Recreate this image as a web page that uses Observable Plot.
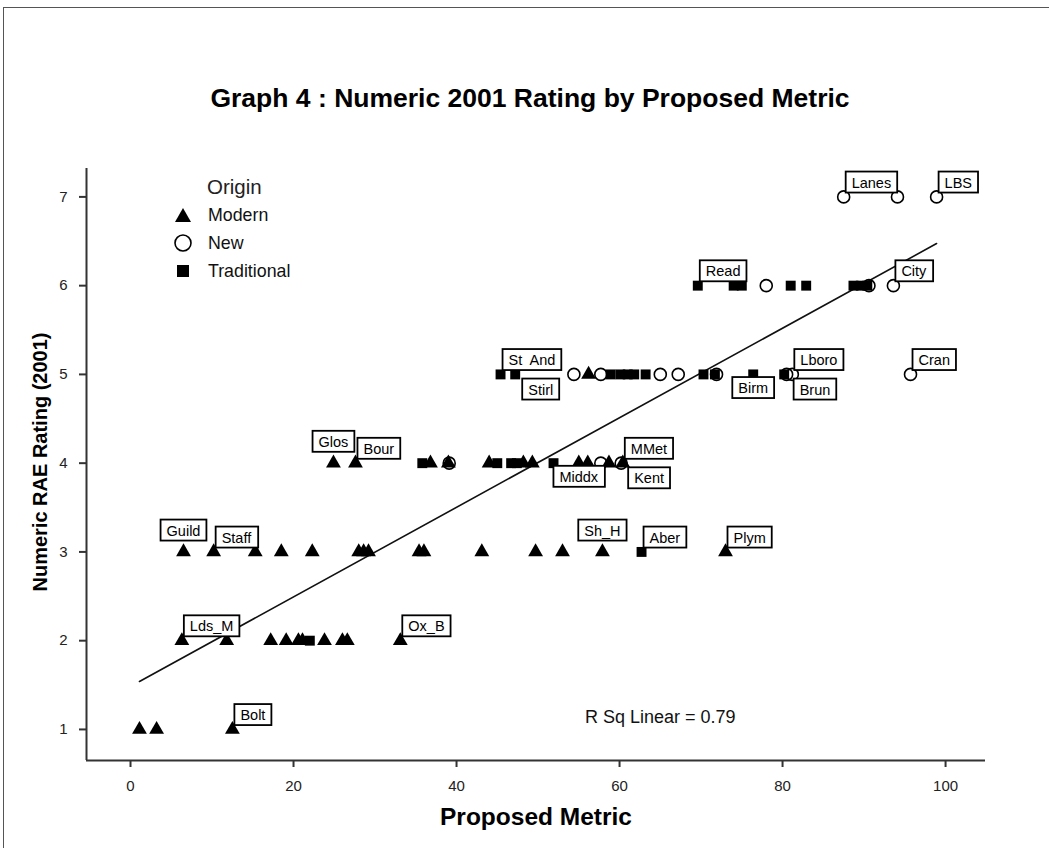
<!DOCTYPE html>
<html><head><meta charset="utf-8">
<script src="https://cdn.jsdelivr.net/npm/d3@7"></script>
<script src="https://cdn.jsdelivr.net/npm/@observablehq/plot@0.6"></script>
<style>
body{margin:0;background:#fff;font-family:"Liberation Sans",Arial,sans-serif;}
#wrap{position:relative;width:1049px;height:848px;overflow:hidden;}
#frame{position:absolute;left:3px;top:7px;width:1100px;height:900px;border-left:1px solid #555;border-top:1px solid #555;pointer-events:none;}
#title{position:absolute;left:0;width:1060px;top:83px;text-align:center;font-weight:bold;font-size:26.5px;color:#000;}
.axlab{position:absolute;font-weight:bold;color:#000;white-space:nowrap;}
#xlab{left:0;width:1072px;text-align:center;top:803px;font-size:24.5px;}
#ylab{left:40px;top:462px;transform:translate(-50%,-50%) rotate(-90deg);font-size:20px;}
#legend{position:absolute;left:174px;top:175px;color:#111;}
#legend .ttl{position:absolute;left:33px;top:0;font-size:20.5px;color:#222;white-space:nowrap;line-height:24px;}
#legend .row{position:absolute;left:0;white-space:nowrap;height:20px;line-height:20px;font-size:17.8px;}
#legend svg{vertical-align:middle;margin-right:16px;position:relative;top:-1px;}
</style></head>
<body>
<div id="wrap">
  <div id="frame"></div>
  <div id="title">Graph 4 : Numeric 2001 Rating by Proposed Metric</div>
  <div id="legend"></div>
  <div class="axlab" id="xlab">Proposed Metric</div>
  <div class="axlab" id="ylab">Numeric RAE Rating (2001)</div>
</div>
<script>
// [Proposed Metric, Numeric RAE Rating (2001)]
const modern = [
  [1.1,1],[3.2,1],[12.5,1],
  [6.3,2],[11.8,2],[17.2,2],[19.1,2],[20.6,2],[21.1,2],[23.8,2],[26.0,2],[26.6,2],[33.1,2],
  [6.5,3],[10.2,3],[15.3,3],[18.5,3],[22.3,3],[28.0,3],[28.6,3],[29.2,3],[35.4,3],[36.0,3],[43.1,3],[49.7,3],[53.0,3],[57.9,3],[73.0,3],
  [24.9,4],[27.6,4],[36.8,4],[39.0,4],[44.0,4],[48.2,4],[49.3,4],[55.0,4],[56.1,4],[58.7,4],[60.4,4],
  [56.2,5]
];
const newUni = [
  [39.1,4],[57.7,4],[60.2,4],
  [54.4,5],[57.7,5],[65.0,5],[67.2,5],[71.9,5],[80.5,5],[81.2,5],[95.7,5],
  [78.0,6],[90.6,6],[93.6,6],
  [87.5,7],[94.1,7],[98.9,7]
];
const traditional = [
  [22.0,2],
  [62.7,3],
  [35.8,4],[45.0,4],[46.7,4],[47.4,4],[51.9,4],
  [45.4,5],[47.2,5],[58.9,5],[60.1,5],[61.0,5],[61.8,5],[63.2,5],[70.3,5],[71.7,5],[76.4,5],[80.2,5],
  [69.6,6],[74.0,6],[75.0,6],[81.0,6],[82.9,6],[88.7,6],[89.6,6],[90.4,6]
];
// [label, metric, rating, placement]
const labels = [
  ["Bolt",12.5,1,"ne"],["Lds_M",6.3,2,"ne"],["Ox_B",33.1,2,"ne"],
  ["Guild",6.5,3,"n"],["Staff",10.2,3,"ne"],["Sh_H",57.9,3,"n"],["Aber",62.7,3,"ne"],["Plym",73.0,3,"ne"],
  ["Glos",24.9,4,"n"],["Bour",27.6,4,"ne"],["Middx",55.0,4,"s"],["MMet",60.4,4,"ne"],["Kent",60.2,4,"se"],
  ["St  And",45.4,5,"ne"],["Stirl",47.2,5,"se"],["Birm",76.4,5,"s"],["Lboro",81.2,5,"ne"],["Brun",80.5,5,"se"],["Cran",95.7,5,"ne"],
  ["Read",69.6,6,"ne"],["City",93.6,6,"ne"],
  ["Lanes",87.5,7,"ne"],["LBS",98.9,7,"ne"]
];
const originNames = ["Modern","New","Traditional"];
const xTicks = [0,20,40,60,80,100];
const yTicks = [1,2,3,4,5,6,7];
const xDomain = [-5.4,104.9];
const yDomain = [0.65,7.32];
const rSqText = "R Sq Linear = 0.79";

const all = [...modern, ...newUni, ...traditional];
const offsets = {ne:[8,-14], n:[0,-21], se:[13,15.5], s:[0,14]};
const anchors = {ne:"start", n:"middle", se:"start", s:"middle"};

const labelMarks = Object.keys(offsets).map(k => Plot.text(labels.filter(d => d[3]===k), {
  x: d => d[1], y: d => d[2], text: d => d[0],
  dx: offsets[k][0], dy: offsets[k][1], textAnchor: anchors[k],
  fontSize: 14.5, fill: "black"
}));

const plot = Plot.plot({
  width: 1049, height: 848,
  marginLeft: 86, marginRight: 64, marginTop: 168, marginBottom: 88,
  style: {fontFamily: "Liberation Sans, Arial, sans-serif", fontSize: "15px", color: "#222", background: "transparent"},
  x: {domain: xDomain},
  y: {domain: yDomain},
  marks: [
    Plot.axisX({ticks: xTicks, tickSize: 7, tickPadding: 13, label: null, strokeWidth: 2, stroke: "#333", tickFormat: d3.format("d")}),
    Plot.axisY({ticks: yTicks, tickSize: 7, tickPadding: 12, label: null, strokeWidth: 2, stroke: "#333", tickFormat: d3.format("d")}),
    Plot.ruleX([xDomain[0]], {stroke: "#333", strokeWidth: 2}),
    Plot.ruleY([yDomain[0]], {stroke: "#333", strokeWidth: 2}),
    Plot.linearRegressionY(all, {x: d => d[0], y: d => d[1], stroke: "#111", strokeWidth: 1.6, ci: 0}),
    Plot.dot(traditional, {x: d => d[0], y: d => d[1], symbol: "square", r: 5.6, fill: "black", stroke: "none"}),
    Plot.dot(modern, {x: d => d[0], y: d => d[1], symbol: "triangle", r: 5.5, fill: "black", stroke: "none"}),
    Plot.dot(newUni, {x: d => d[0], y: d => d[1], symbol: "circle", r: 6, fill: "none", stroke: "black", strokeWidth: 1.6}),
    ...labelMarks,
    Plot.text([rSqText], {x: 65, y: 1.14, text: d => d, fontSize: 18, fill: "#111"})
  ]
});
plot.style.position = "absolute";
plot.style.left = "0px";
plot.style.top = "0px";
document.getElementById("wrap").appendChild(plot);

// boxes behind point labels
const NS = "http://www.w3.org/2000/svg";
const names = new Set(labels.map(d => d[0]));
Array.from(plot.querySelectorAll("text")).filter(t => names.has(t.textContent)).forEach(t => {
  const bb = t.getBBox();
  const r = document.createElementNS(NS, "rect");
  r.setAttribute("x", bb.x - 6);
  r.setAttribute("y", bb.y - 3);
  r.setAttribute("width", bb.width + 12);
  r.setAttribute("height", bb.height + 5);
  r.setAttribute("fill", "white");
  r.setAttribute("stroke", "black");
  r.setAttribute("stroke-width", "1.8");
  const tr = t.getAttribute("transform");
  if (tr) r.setAttribute("transform", tr);
  t.parentNode.insertBefore(r, t);
});

// legend
const legend = document.getElementById("legend");
const ttl = document.createElement("div");
ttl.className = "ttl"; ttl.textContent = "Origin";
legend.appendChild(ttl);
const sym = {
  Modern: '<polygon points="9,2 17,16 1,16" fill="black"/>',
  New: '<circle cx="9" cy="9" r="8" fill="none" stroke="black" stroke-width="1.6"/>',
  Traditional: '<rect x="3" y="3" width="12" height="12" fill="black"/>'
};
originNames.forEach((n, i) => {
  const row = document.createElement("div");
  row.className = "row";
  row.style.top = (30 + i * 28) + "px";
  row.innerHTML = '<svg width="18" height="18">' + sym[n] + '</svg>' + n;
  legend.appendChild(row);
});
</script>
</body></html>
